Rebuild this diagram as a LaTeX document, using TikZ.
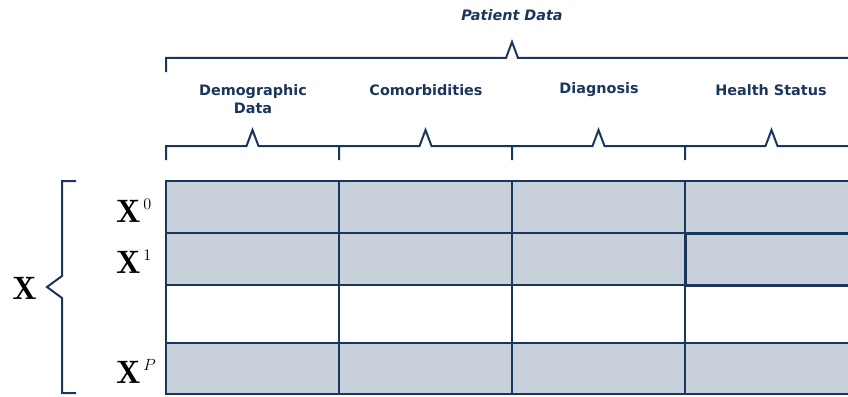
\documentclass[tikz,border=0pt]{standalone}
\usepackage{fontspec}
\newfontfamily\labelfont{DejaVu Sans}
\usetikzlibrary{calc}
\definecolor{navy}{HTML}{1B365D}
\definecolor{cellgray}{HTML}{C8D1D9}
\newcommand{\bigmath}[1]{\scalebox{1.35}{$#1$}}
\begin{document}
\begin{tikzpicture}[x=1pt,y=-1pt,
  cell/.style={draw=navy, line width=2pt, minimum width=173pt, inner sep=0pt, outer sep=0pt, anchor=north west},
  brace/.style={draw=navy, line width=2pt, line join=miter},
  collabel/.style={text=navy, font=\labelfont\fontsize{14.4}{18}\selectfont\bfseries, align=center, inner sep=0pt},
  rowlabel/.style={text=black, font=\fontsize{24}{24}\selectfont, inner sep=0pt, anchor=base west}]
\useasboundingbox (0,0) rectangle (848,396);

% data grid: rows of patients, columns of feature groups
\foreach \r/\top/\h/\fc in {0/181/52/cellgray, 1/233/52/cellgray, 2/285/58/white, 3/343/51/cellgray}
  \foreach \c/\lft in {0/166, 1/339, 2/512, 3/685}
    \node[cell, fill=\fc, minimum height=\h pt] (c\r\c) at (\lft,\top) {};
% emphasised cell
\draw[navy, line width=3pt] (c13.north west) -- (c13.north east);
\draw[navy, line width=3pt] (c13.south west) -- (c13.south east);
\draw[navy, line width=3pt] (c13.north west) -- (c13.south west);

% column labels
\node[collabel] (demo) at (253,99) {Demographic\\Data};
\node[collabel] (comor) at (426,90) {Comorbidities};
\node[collabel] (diag) at (599,90) {Diagnosis};
\node[collabel] (health) at (771,90) {Health Status};
\node[collabel, font=\labelfont\fontsize{14.4}{18}\selectfont\bfseries\itshape] (patient) at (512,15) {Patient Data};

% column braces
\foreach \c/\lft/\rgt in {0/166/339, 1/339/512, 2/512/685, 3/685/860}{
  \pgfmathsetmacro{\mid}{(\lft+173/2)}
  \coordinate (b\c) at (\mid,130);
  \draw[brace] (\lft,160) -- (\lft,146) -- ($(b\c)+(-6,16)$) -- (b\c) -- ($(b\c)+(6,16)$) -- (\rgt,146);
}
% overall brace
\coordinate (top) at (512,42);
\draw[brace] (166,72) -- (166,58) -- ($(top)+(-6,16)$) -- (top) -- ($(top)+(6,16)$) -- (860,58);

% row labels
\node[rowlabel] (x0) at (116,222) {\bigmath{\mathbf{X}^{\mkern2mu\scriptscriptstyle 0}}};
\node[rowlabel] (x1) at (116,273) {\bigmath{\mathbf{X}^{\mkern2mu\scriptscriptstyle 1}}};
\node[rowlabel] (xp) at (116,383) {\bigmath{\mathbf{X}^{\mkern2mu\scriptscriptstyle P}}};

% left brace and full matrix label
\coordinate (tip) at (47,287);
\draw[brace] (76,181) -- (62,181) -- (62,276) -- (tip) -- (62,298) -- (62,393) -- (76,393);
\node[rowlabel, anchor=east] (xall) at ($(tip)+(-10,1)$) {\bigmath{\mathbf{X}}};
\end{tikzpicture}
\end{document}
